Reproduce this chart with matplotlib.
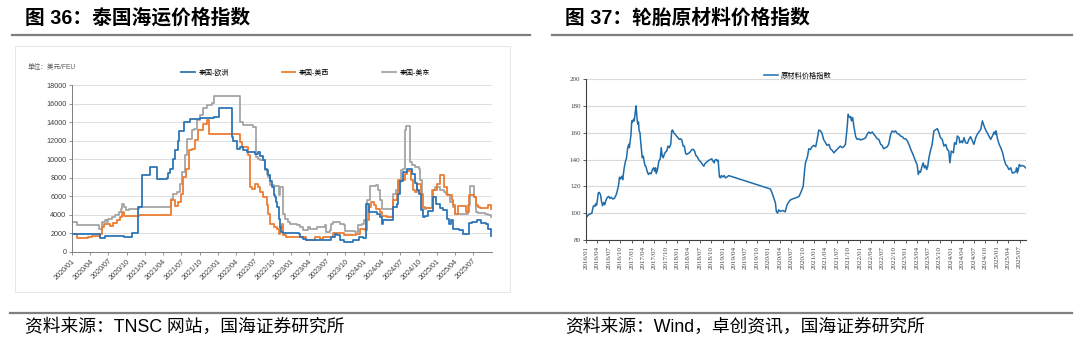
import matplotlib
matplotlib.use('Agg')
import matplotlib.pyplot as plt
import matplotlib.dates as mdates
import pandas as pd
from matplotlib.lines import Line2D
from matplotlib.patches import Rectangle

plt.rcParams['font.family'] = ['Liberation Sans', 'Noto Sans CJK SC']
plt.rcParams['axes.unicode_minus'] = False

# ---------------- Figure 36 data: Thailand shipping freight (USD/FEU) ----------------
eu_dates = ['2020-01-01','2020-05-19','2020-06-16','2020-09-16','2020-10-25','2020-11-25','2020-12-19',
            '2021-01-25','2021-02-28','2021-04-19','2021-04-28','2021-05-07','2021-05-19','2021-06-01',
            '2021-06-13','2021-06-22','2021-07-13','2021-08-16','2021-10-04','2021-12-10','2022-01-04',
            '2022-03-13','2022-03-19','2022-04-04','2022-04-22','2022-05-07','2022-05-25','2022-07-04',
            '2022-07-22','2022-08-01','2022-08-16','2022-08-25','2022-09-04','2022-09-10','2022-09-19',
            '2022-09-28','2022-10-07','2022-10-13','2022-10-19','2022-10-25','2022-11-01','2022-11-07',
            '2022-11-13','2022-11-25','2023-02-10','2023-02-16','2023-03-04','2023-03-19','2023-07-07',
            '2023-07-22','2023-08-10','2023-08-19','2023-09-04','2023-09-22','2023-11-07','2023-12-10',
            '2023-12-28','2024-01-13','2024-01-25','2024-03-07','2024-03-22','2024-04-01','2024-04-07',
            '2024-05-28','2024-06-13','2024-06-22','2024-07-01','2024-07-16','2024-08-04','2024-08-28',
            '2024-09-13','2024-09-25','2024-10-04','2024-10-13','2024-10-22','2024-11-04','2024-11-16',
            '2024-12-13','2024-12-28','2025-01-16','2025-02-01','2025-02-19','2025-03-01','2025-03-13',
            '2025-03-25','2025-04-22','2025-05-10','2025-06-04','2025-06-13','2025-06-28','2025-07-22',
            '2025-08-10','2025-09-04','2025-09-16','2025-09-28']
eu_vals = [1950,1500,1700,1600,2000,4900,8300,
           9200,7900,8000,8500,9000,10000,11000,
           12000,13000,14000,14300,14400,14600,15500,
           12400,12000,11150,11300,10950,10800,10600,
           10800,10400,9900,9000,8800,8300,7700,
           7000,6100,5900,5400,4900,3600,2700,
           2200,2050,1900,1600,1450,1330,1260,
           1620,1980,1800,1330,1080,1330,1620,
           1500,5200,4300,4140,3800,3060,3500,
           4860,5200,6300,7700,8600,9000,8450,
           7400,6650,6300,4500,3800,3850,4430,
           5940,5150,4750,4500,3600,3000,3420,
           2520,2410,1980,1900,3130,3240,3420,
           3130,3060,2520,1690]

usw_dates = ['2020-01-01','2020-01-25','2020-03-22','2020-04-10','2020-05-20','2020-05-28','2020-06-07',
             '2020-07-10','2020-07-25','2020-08-13','2020-08-28','2020-09-07','2020-09-16','2020-10-01',
             '2020-12-01','2021-05-10','2021-06-01','2021-06-16','2021-06-28','2021-07-10','2021-07-25',
             '2021-08-07','2021-08-22','2021-09-10','2021-09-25','2021-10-19','2021-11-07','2021-11-19',
             '2022-04-19','2022-05-01','2022-06-01','2022-06-10','2022-06-22','2022-07-04','2022-07-22',
             '2022-08-01','2022-08-16','2022-09-04','2022-09-10','2022-09-19','2022-10-07','2022-10-22',
             '2022-11-01','2022-11-07','2022-11-16','2022-11-25','2022-12-10','2023-03-19','2023-04-22',
             '2023-05-01','2023-05-25','2023-06-13','2023-08-01','2023-09-22','2023-11-25','2023-12-13',
             '2024-01-07','2024-01-16','2024-01-25','2024-02-04','2024-02-19','2024-03-04','2024-03-22',
             '2024-04-01','2024-04-25','2024-05-28','2024-06-13','2024-06-22','2024-07-25','2024-08-04',
             '2024-08-22','2024-09-01','2024-09-13','2024-09-22','2024-10-13','2024-10-22','2024-11-04',
             '2024-12-13','2025-01-01','2025-01-16','2025-02-07','2025-02-19','2025-03-16','2025-03-22',
             '2025-04-01','2025-04-19','2025-05-28','2025-06-13','2025-07-04','2025-07-16','2025-07-28',
             '2025-08-04','2025-09-16','2025-09-28']
usw_vals = [1900,1550,1600,1750,1970,2700,3060,
            2770,3130,3500,3780,4300,3880,3850,
            4030,5580,4930,5400,6300,8100,9000,
            10970,11150,12050,13130,13850,14200,12700,
            11870,11330,10430,7010,6830,7370,7000,
            6470,5940,5040,4140,3060,2700,2520,
            1980,2700,3060,1800,1620,1330,1260,
            1620,1440,1620,2050,1870,1980,2520,
            2340,3420,4860,5400,5040,4680,4320,
            3850,3780,5580,6300,7740,8450,8740,
            7740,6660,6480,7300,6300,4860,4750,
            6660,7380,8270,7010,6120,5580,5040,
            4140,4930,4320,6120,5940,5040,4860,
            4790,5040,4680]

use_dates = ['2020-01-01','2020-01-25','2020-05-13','2020-05-28','2020-06-16','2020-06-25','2020-07-01',
             '2020-07-19','2020-08-04','2020-08-22','2020-09-01','2020-09-07','2020-09-16','2020-09-25',
             '2020-10-10','2020-12-01','2021-05-10','2021-05-22','2021-06-10','2021-06-25','2021-07-04',
             '2021-07-19','2021-07-28','2021-08-22','2021-09-01','2021-09-16','2021-10-04','2021-10-19',
             '2021-11-07','2021-12-01','2021-12-10','2022-04-22','2022-05-07','2022-06-25','2022-07-10',
             '2022-07-22','2022-08-01','2022-08-25','2022-09-01','2022-09-10','2022-09-19','2022-10-07',
             '2022-11-01','2022-11-07','2022-11-22','2022-12-04','2022-12-16','2022-12-28','2023-02-01',
             '2023-02-16','2023-03-04','2023-03-19','2023-03-28','2023-04-07','2023-05-10','2023-06-19',
             '2023-06-28','2023-07-16','2023-07-22','2023-08-01','2023-09-04','2023-09-22','2023-09-28',
             '2023-11-19','2023-12-04','2023-12-22','2024-01-04','2024-01-16','2024-02-01','2024-03-04',
             '2024-03-13','2024-03-22','2024-04-01','2024-05-28','2024-06-10','2024-06-22','2024-07-07',
             '2024-07-16','2024-07-25','2024-07-28','2024-08-19','2024-08-28','2024-09-13','2024-10-01',
             '2024-10-10','2024-10-16','2024-11-10','2024-12-10','2024-12-22','2025-01-16','2025-02-04',
             '2025-02-16','2025-02-28','2025-03-07','2025-03-22','2025-04-01','2025-06-07','2025-06-16',
             '2025-07-07','2025-07-16','2025-07-28','2025-09-01','2025-09-16','2025-09-28']
use_vals = [3240,2880,2520,3240,3490,3240,3600,
            3780,3960,4320,4680,5150,4860,4570,
            4680,4820,5760,6300,6480,7370,8630,
            10430,12230,13130,13310,14210,14750,15470,
            15830,16010,16800,14030,13670,13490,10250,
            10070,9890,8810,8450,8090,7190,7090,
            6120,7010,4140,3600,3240,3060,2880,
            2700,2410,2340,2700,2520,2700,2880,
            2160,2340,3060,3240,3060,2880,2270,
            2160,2880,3060,3420,5580,7090,7200,
            6660,5580,4680,6300,6660,7560,8810,
            9000,13130,13570,9710,9350,9170,9000,
            7740,4680,4750,6660,7010,6660,6480,
            6230,6120,5400,4860,4140,5040,7090,
            5940,4320,4210,4140,3960,3780]

series_names = ['泰国-欧洲', '泰国-美西', '泰国-美东']
series_colors = ['#2E75B6', '#ED7D31', '#A5A5A5']
left_yticks = list(range(0, 18001, 2000))

# ---------------- Figure 37 data: tyre raw material price index ----------------
rm_dates = ['2016-01-01','2016-01-08','2016-01-21','2016-02-04','2016-02-17','2016-02-22','2016-03-01',
            '2016-03-13','2016-03-18','2016-03-26','2016-04-03','2016-04-08','2016-04-16','2016-04-26',
            '2016-05-04','2016-05-12','2016-05-22','2016-05-30','2016-06-08','2016-06-20','2016-07-01',
            '2016-07-11','2016-07-21','2016-08-04','2016-08-17','2016-08-30','2016-09-13','2016-09-20',
            '2016-09-25','2016-10-03','2016-10-14','2016-10-21','2016-10-29','2016-11-04','2016-11-12',
            '2016-11-19','2016-11-25','2016-11-30','2016-12-08','2016-12-13','2016-12-18','2016-12-26',
            '2017-01-01','2017-01-08','2017-01-16','2017-01-21','2017-01-29','2017-02-04','2017-02-09',
            '2017-02-14','2017-02-19','2017-02-24','2017-03-01','2017-03-08','2017-03-13','2017-03-18',
            '2017-03-26','2017-04-03','2017-04-08','2017-04-16','2017-04-24','2017-05-04','2017-05-14',
            '2017-05-25','2017-06-05','2017-06-15','2017-06-25','2017-07-03','2017-07-11','2017-07-16',
            '2017-07-26','2017-08-06','2017-08-17','2017-08-25','2017-09-02','2017-09-10','2017-09-18',
            '2017-09-28','2017-10-08','2017-10-18','2017-10-29','2017-11-09','2017-11-17','2017-11-24',
            '2017-12-05','2017-12-15','2017-12-25','2018-01-06','2018-01-16','2018-01-27','2018-02-06',
            '2018-02-16','2018-02-26','2018-03-08','2018-03-18','2018-03-28','2018-04-08','2018-04-18',
            '2018-04-28','2018-05-09','2018-05-19','2018-05-29','2018-06-10','2018-06-20','2018-06-30',
            '2018-07-10','2018-07-21','2018-08-01','2018-08-11','2018-08-22','2018-09-02','2018-09-12',
            '2018-09-22','2018-10-03','2018-10-13','2018-10-23','2018-10-28','2018-11-09','2018-11-19',
            '2018-11-24','2018-11-29','2018-12-04','2018-12-12','2018-12-20','2018-12-30','2019-01-10',
            '2019-01-21','2019-02-03','2019-02-16',
            '2020-01-16','2020-01-29','2020-02-12','2020-02-25','2020-03-03','2020-03-13','2020-03-22',
            '2020-04-04','2020-04-25','2020-05-13','2020-05-28','2020-06-19','2020-07-07','2020-08-04',
            '2020-09-01','2020-09-19','2020-10-04','2020-10-16','2020-10-22','2020-11-07','2020-11-18',
            '2020-12-01','2020-12-14','2020-12-28','2021-01-12','2021-01-24','2021-02-06','2021-02-20',
            '2021-03-04','2021-03-16','2021-04-01','2021-04-13','2021-04-28','2021-05-10','2021-05-22',
            '2021-06-07','2021-06-19','2021-07-02','2021-07-16','2021-07-28','2021-08-13','2021-08-25',
            '2021-09-07','2021-09-22','2021-09-28','2021-10-10','2021-10-19','2021-10-25','2021-11-04',
            '2021-11-13','2021-11-28','2021-12-10','2021-12-23','2022-01-07','2022-01-19','2022-02-04',
            '2022-02-16','2022-02-28','2022-03-13','2022-03-25','2022-04-10','2022-04-22','2022-05-04',
            '2022-05-19','2022-06-01','2022-06-16','2022-06-28','2022-07-10','2022-07-25','2022-08-07',
            '2022-08-19','2022-09-04','2022-09-16','2022-10-01','2022-10-13','2022-10-25','2022-11-10',
            '2022-11-22','2022-12-07','2022-12-19','2023-01-01','2023-01-16','2023-01-28','2023-02-12',
            '2023-02-24','2023-03-07','2023-03-22','2023-04-04','2023-04-13','2023-04-22','2023-05-01',
            '2023-05-13','2023-05-22','2023-06-01','2023-06-10','2023-06-19','2023-06-28','2023-07-07',
            '2023-07-19','2023-08-02','2023-08-16','2023-08-28','2023-09-13','2023-09-25','2023-10-07',
            '2023-10-22','2023-11-04','2023-11-19','2023-12-01','2023-12-13','2023-12-22','2024-01-02',
            '2024-01-19','2024-01-28','2024-02-10','2024-02-19','2024-03-04','2024-03-10','2024-03-22',
            '2024-04-01','2024-04-13','2024-04-25','2024-05-10','2024-05-22','2024-06-04','2024-06-19',
            '2024-07-01','2024-07-16','2024-07-28','2024-08-10','2024-08-25','2024-09-07','2024-09-16',
            '2024-09-25','2024-10-07','2024-10-16','2024-10-29','2024-11-13','2024-11-26','2024-12-10',
            '2024-12-19','2024-12-25','2025-01-07','2025-01-19','2025-02-01','2025-02-16','2025-02-28',
            '2025-03-13','2025-03-25','2025-04-07','2025-04-22','2025-05-04','2025-05-16','2025-06-01',
            '2025-06-08','2025-06-13','2025-06-22','2025-06-29','2025-07-10','2025-07-22','2025-08-07',
            '2025-08-19']
rm_vals = [96.3,97.5,98.8,99.5,100,102.5,105.5,
           105,107,106,111,115,115.5,113.8,
           108.8,105.5,108,106.3,109.5,111.8,112.5,
           111,111.8,110.5,111.3,113.8,118.8,122.5,
           126.8,125.5,127.5,125,131.3,135,138.8,
           140.5,145,148.8,151.3,148.8,152.5,158.8,
           168.8,168,170,168.8,175,180,175,
           168.8,166.3,168,161.3,160,153.8,148.8,
           141.3,142.5,140,135.5,135,131.3,128.8,
           130,129.3,132.5,133.8,131.3,133.8,129.5,
           132.5,138.8,140.5,148.8,142.5,141.3,143.8,
           145.5,146.3,150,148.8,151.3,161.3,162,
           159.5,158.8,157.5,156.3,155,155.5,154.5,
           150,150,144.5,143.8,144.5,145,146.3,
           147.5,147.5,146.3,143,142,140,138.8,
           138,136.3,135,137,138,138.8,139.5,
           140,140.5,138.8,137.5,139.5,140,138.8,
           139.5,132.5,127,126.3,128,127,128,
           126.3,127,128,
           118,115,111.3,107.5,101.3,100,102.5,
           101.3,102,101,106.3,109.5,110.5,111.3,
           112.5,116.3,120,132.5,137.5,142,148,
           147.5,149.5,150.5,149.5,155,162,161.3,
           159.5,155,152.5,150.5,151.3,148,147,
           145,146.3,147.5,148.8,150,148.8,149.5,
           151.3,165,173.8,171.3,172,168.8,171.3,
           165,157,155,155.5,154.5,155,155.5,
           156.3,158.8,160.5,159.5,160.5,158.8,157.5,
           155.5,155,151.3,150.5,148,148.8,149.5,
           151.3,158.8,161.3,160.5,161.3,159.5,158.8,
           157.5,157,155.5,155.5,153.8,151.3,147.5,
           145,142.5,138.8,136,128.8,131.3,130.5,
           135,137.5,133.8,135.5,132.5,135,141.3,
           146.3,151.3,161.3,162,163,160,156.3,
           155,150,151.3,147.5,146.3,137.5,146.3,
           145,152.5,151.3,157.5,156.3,152.5,153.8,
           152.5,156.3,152.5,152,155,157,153.8,
           151.3,156.3,158.8,160.5,162.5,168.8,166.3,
           163.8,161.3,160,157.5,155,157.5,160.5,
           158.8,161.3,155,151.3,148.8,145,140,
           136.3,135,132.5,133.8,130,130,131.3,
           133.8,130,132.5,136.3,135,135.5,135,
           133.8]
rm_name = '原材料价格指数'
right_yticks = list(range(80, 201, 20))

# ---------------- layout ----------------
W, H = 1080, 355
fig = plt.figure(figsize=(W / 100, H / 100), dpi=100)
fig.patch.set_facecolor('white')

def fx(px):
    return px / W

def fy(py):
    return 1 - py / H

# titles and separator lines
title_font = ['Liberation Sans', 'Noto Sans CJK SC']
fig.text(fx(25), fy(18), '图 36：泰国海运价格指数', fontsize=14.2, fontweight='bold',
         family=title_font, va='center', ha='left', color='#000000')
fig.text(fx(565), fy(18), '图 37：轮胎原材料价格指数', fontsize=14.2, fontweight='bold',
         family=title_font, va='center', ha='left', color='#000000')
for x0, x1 in [(12, 530), (552, 1072)]:
    fig.add_artist(Line2D([fx(x0), fx(x1)], [fy(35), fy(35)], color='#7F7F7F', lw=1.6))
fig.add_artist(Line2D([fx(10), fx(1072)], [fy(313), fy(313)], color='#7F7F7F', lw=1.6))

src_font = ['Liberation Sans', 'Noto Sans CJK SC']
fig.text(fx(25), fy(327), '资料来源：TNSC 网站，国海证券研究所', fontsize=12.8,
         family=src_font, va='center', ha='left', color='#000000')
fig.text(fx(565), fy(327), '资料来源：Wind，卓创资讯，国海证券研究所', fontsize=12.8,
         family=src_font, va='center', ha='left', color='#000000')

# faint frame around left chart
fig.add_artist(Rectangle((fx(15), fy(292)), fx(510) - fx(15), fy(46) - fy(292),
                         transform=fig.transFigure, fill=False, edgecolor='#E3E3E3', lw=0.6))

# ---------------- left chart ----------------
axL = fig.add_axes([fx(72), fy(252), fx(492) - fx(72), fy(85) - fy(252)])
all_series = [(eu_dates, eu_vals), (usw_dates, usw_vals), (use_dates, use_vals)]
handles = []
for (d, v), name, c in zip(all_series, series_names, series_colors):
    h, = axL.plot(pd.to_datetime(d), v, drawstyle='steps-post', color=c, lw=1.3, label=name)
    handles.append(h)
handles[2].set_zorder(2)
handles[1].set_zorder(3)
handles[0].set_zorder(4)

axL.set_xlim(pd.Timestamp('2020-01-01'), pd.Timestamp('2025-10-04'))
axL.set_ylim(0, 18000)
axL.set_yticks(left_yticks)
axL.set_yticklabels([str(t) for t in left_yticks])
lticks = pd.date_range('2020-01-01', '2025-07-01', freq='3MS')
axL.set_xticks(lticks)
axL.set_xticklabels([t.strftime('%Y/%m') for t in lticks], rotation=45, ha='right',
                    rotation_mode='anchor')
axL.grid(axis='y', color='#D9D9D9', lw=0.6)
axL.set_axisbelow(True)
for s in ['top', 'right']:
    axL.spines[s].set_visible(False)
for s in ['left', 'bottom']:
    axL.spines[s].set_color('#7F7F7F')
    axL.spines[s].set_linewidth(0.7)
axL.tick_params(axis='both', labelsize=5.2, colors='#404040', length=2.5, width=0.6, pad=1.5)
axL.tick_params(axis='x', color='#7F7F7F')
axL.tick_params(axis='y', color='#7F7F7F')

fig.text(fx(28), fy(67), '单位：美元/FEU', fontsize=4.8, color='#595959', va='center', ha='left')
axL.legend(handles=handles, loc='center left', bbox_to_anchor=(fx(181), fy(73)),
           bbox_transform=fig.transFigure, ncol=3, frameon=False, fontsize=5,
           handlelength=2.0, handletextpad=0.5, columnspacing=7.6, borderpad=0, borderaxespad=0)

# ---------------- right chart ----------------
axR = fig.add_axes([fx(586), fy(240), fx(1026) - fx(586), fy(79) - fy(240)])
hr, = axR.plot(pd.to_datetime(rm_dates), rm_vals, color='#1F6CAB', lw=1.1, label=rm_name)
axR.set_xlim(pd.Timestamp('2016-01-01'), pd.Timestamp('2025-08-22'))
axR.set_ylim(80, 200)
axR.set_yticks(right_yticks)
axR.set_yticklabels([str(t) for t in right_yticks], family='Liberation Serif')
rticks = pd.date_range('2016-01-01', '2025-07-01', freq='3MS')
axR.set_xticks(rticks)
axR.set_xticklabels([t.strftime('%Y/%m') for t in rticks], rotation=90, family='Liberation Serif')
axR.grid(axis='y', color='#D9D9D9', lw=0.8)
axR.set_axisbelow(True)
for s in ['top', 'right']:
    axR.spines[s].set_visible(False)
for s in ['left', 'bottom']:
    axR.spines[s].set_color('#404040')
    axR.spines[s].set_linewidth(0.8)
axR.tick_params(axis='both', labelsize=5, colors='#404040', length=2.5, width=0.6, pad=1.5)
axR.legend(handles=[hr], loc='center left', bbox_to_anchor=(fx(764), fy(76)),
           bbox_transform=fig.transFigure, frameon=False, fontsize=5.2,
           handlelength=1.9, handletextpad=0.4, borderpad=0, borderaxespad=0)

fig.savefig('out.png', dpi=100, facecolor='white')
